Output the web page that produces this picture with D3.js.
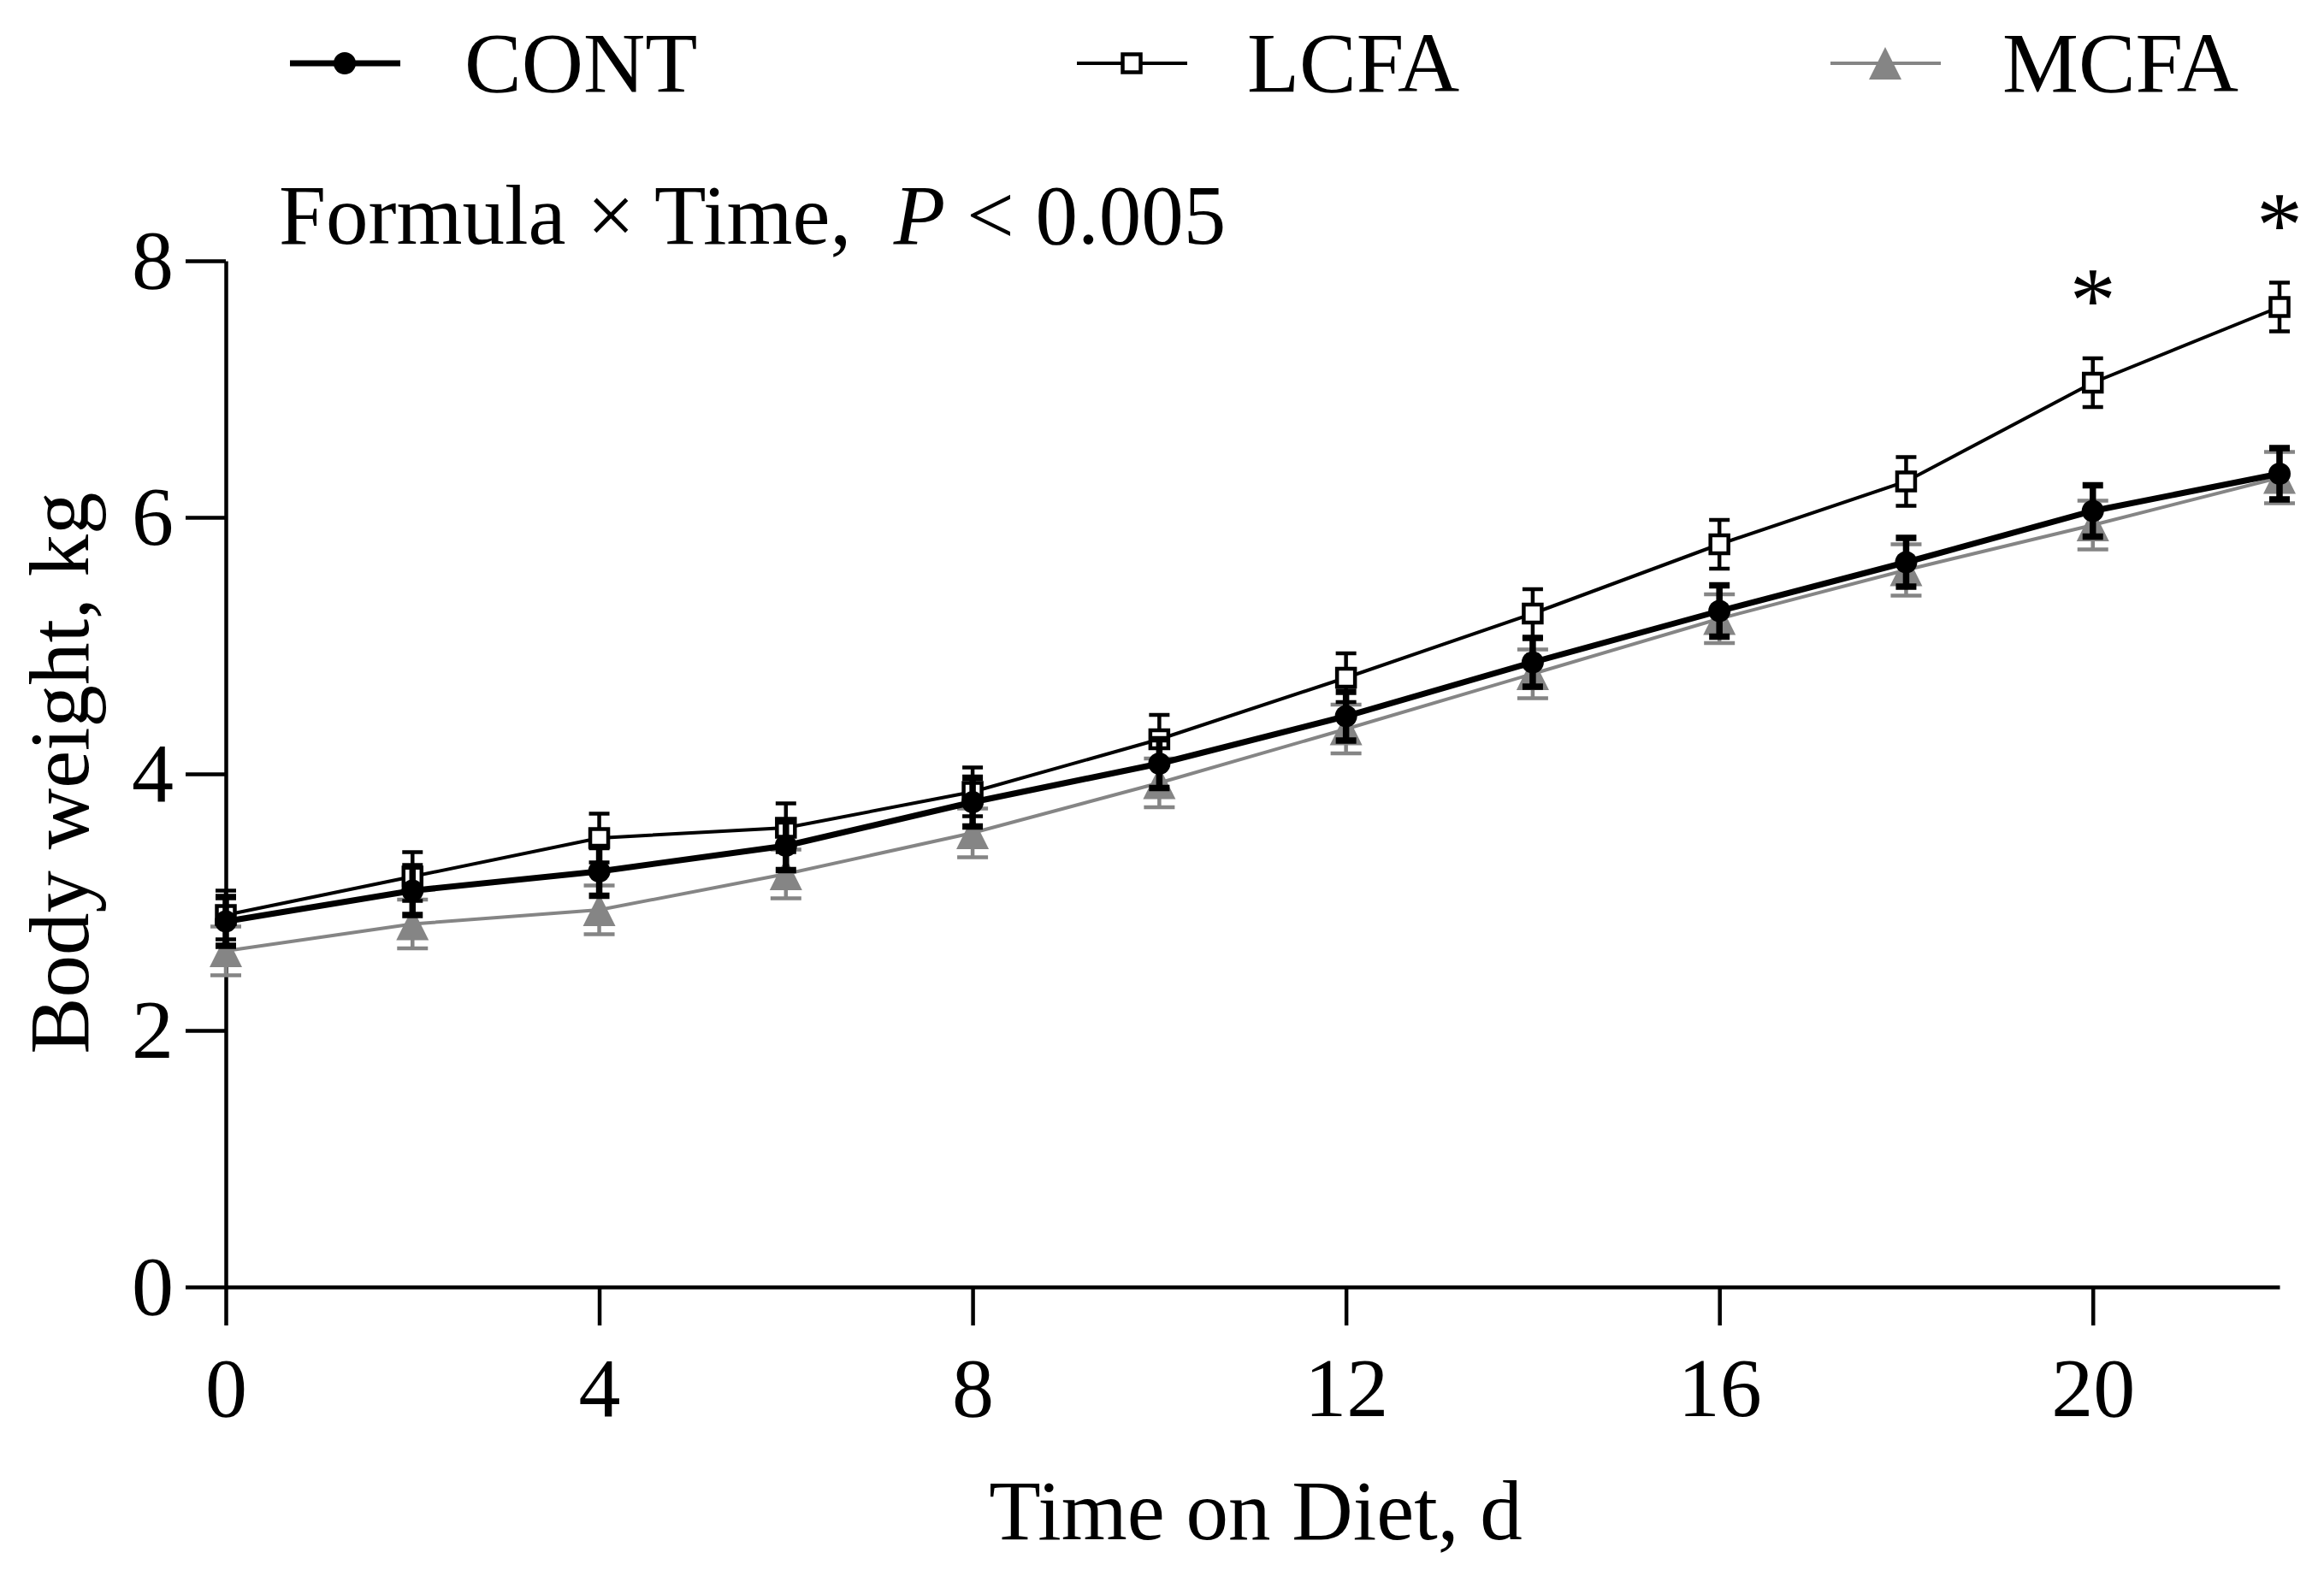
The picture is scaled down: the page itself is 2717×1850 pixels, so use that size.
<!DOCTYPE html>
<meta charset="utf-8">
<style>
body { margin: 0; background: #fff; }
text { font-family: "Liberation Serif", "Times New Roman", serif; fill: #000; }
.axis path, .axis line { stroke: #000; stroke-width: 4.5px; }
.axis text { font-size: 98px; font-family: "Liberation Serif", "Times New Roman", serif; }
</style>
<body>
<script src="https://d3js.org/d3.v7.min.js"></script>
<script>

// data
var days = [0, 2, 4, 6, 8, 10, 12, 14, 16, 18, 20, 22];
var cont = [2.85, 3.09, 3.24, 3.44, 3.78, 4.08, 4.45, 4.87, 5.27, 5.65, 6.05, 6.34];
var contSem = [0.19, 0.19, 0.19, 0.19, 0.19, 0.19, 0.19, 0.19, 0.20, 0.19, 0.20, 0.20];
var lcfa = [2.90, 3.20, 3.50, 3.58, 3.86, 4.27, 4.75, 5.25, 5.79, 6.28, 7.05, 7.64];
var lcfaSem = [0.19, 0.19, 0.19, 0.19, 0.19, 0.19, 0.19, 0.19, 0.19, 0.19, 0.19, 0.19];
var mcfa = [2.62, 2.83, 2.94, 3.22, 3.54, 3.93, 4.35, 4.78, 5.21, 5.59, 5.94, 6.31];
var mcfaSem = [0.19, 0.19, 0.19, 0.19, 0.19, 0.19, 0.19, 0.19, 0.19, 0.20, 0.19, 0.20];
var starDays = [20, 22];
var xTicks = [0, 4, 8, 12, 16, 20];
var yTicks = [0, 2, 4, 6, 8];

var W = 2717, H = 1850;

var svg = d3.select("body").append("svg")
    .attr("width", W)
    .attr("height", H);

svg.append("rect").attr("width", W).attr("height", H).attr("fill", "#fff");

// scales
var x = d3.scaleLinear().domain([0, 22]).range([264, 2665]);
var y = d3.scaleLinear().domain([0, 8]).range([1505, 305]);

// series styles (drawn back to front)
var series = [
  {name: "MCFA", vals: mcfa, sem: mcfaSem, color: "#858585", lw: 4, capW: 36, capLw: 4.5, shape: "tri", legX: 2140, textX: 2341},
  {name: "LCFA", vals: lcfa, sem: lcfaSem, color: "#000", lw: 4, capW: 24, capLw: 4.5, shape: "sq", legX: 1259, textX: 1458},
  {name: "CONT", vals: cont, sem: contSem, color: "#000", lw: 7, capW: 24, capLw: 7.5, shape: "circ", legX: 339, textX: 543}
];

function drawMarker(g, shape, color) {
  if (shape === "circ") {
    g.append("circle").attr("r", 13).attr("fill", color);
  } else if (shape === "sq") {
    g.append("rect").attr("x", -10.5).attr("y", -10.5).attr("width", 21).attr("height", 21)
      .attr("fill", "#fff").attr("stroke", color).attr("stroke-width", 4.5);
  } else {
    g.append("path").attr("d", "M0,-19 L19,19 L-19,19 Z")
      .attr("fill", color);
  }
}

// axes
svg.append("g")
    .attr("class", "axis")
    .attr("transform", "translate(0," + y(0) + ")")
    .call(d3.axisBottom(x).tickValues(xTicks).tickSize(45).tickSizeOuter(0).tickPadding(36))
    .selectAll("text").attr("font-size", 98);

svg.append("g")
    .attr("class", "axis")
    .attr("transform", "translate(" + x(0) + ",0)")
    .call(d3.axisLeft(y).tickValues(yTicks).tickSize(47).tickSizeOuter(0).tickPadding(14))
    .selectAll("text").attr("font-size", 98);

// lines, error bars, markers
var line = d3.line()
    .x(function(d, i) { return x(days[i]); })
    .y(function(d) { return y(d); });

series.forEach(function(s) {
  var g = svg.append("g");

  g.append("path")
    .datum(s.vals)
    .attr("fill", "none")
    .attr("stroke", s.color)
    .attr("stroke-width", s.lw)
    .attr("d", line);

  var eb = g.selectAll(".eb").data(s.vals).enter().append("g");
  eb.append("line")
    .attr("x1", function(d, i) { return x(days[i]); })
    .attr("x2", function(d, i) { return x(days[i]); })
    .attr("y1", function(d, i) { return y(d + s.sem[i]); })
    .attr("y2", function(d, i) { return y(d - s.sem[i]); })
    .attr("stroke", s.color).attr("stroke-width", s.capLw);
  [1, -1].forEach(function(sign) {
    eb.append("line")
      .attr("x1", function(d, i) { return x(days[i]) - s.capW / 2; })
      .attr("x2", function(d, i) { return x(days[i]) + s.capW / 2; })
      .attr("y1", function(d, i) { return y(d + sign * s.sem[i]); })
      .attr("y2", function(d, i) { return y(d + sign * s.sem[i]); })
      .attr("stroke", s.color).attr("stroke-width", s.capLw);
  });

  s.vals.forEach(function(v, i) {
    var m = g.append("g").attr("transform", "translate(" + x(days[i]) + "," + y(v) + ")");
    drawMarker(m, s.shape, s.color);
  });

  // legend entry
  var lg = svg.append("g");
  lg.append("line")
    .attr("x1", s.legX).attr("x2", s.legX + 129)
    .attr("y1", 74).attr("y2", 74)
    .attr("stroke", s.color).attr("stroke-width", s.lw);
  var lm = lg.append("g").attr("transform", "translate(" + (s.legX + 64) + ",74)");
  drawMarker(lm, s.shape, s.color);
  lg.append("text")
    .attr("x", s.textX).attr("y", 107)
    .attr("font-size", 100)
    .text(s.name);
});

// significance stars above LCFA
starDays.forEach(function(dd) {
  var i = days.indexOf(dd);
  svg.append("text")
    .attr("x", x(dd))
    .attr("y", y(lcfa[i] + lcfaSem[i]) - 32)
    .attr("text-anchor", "middle")
    .attr("font-size", 108)
    .text("*");
});

// interaction annotation
var ann = svg.append("text")
    .attr("x", 326).attr("y", 285)
    .attr("font-size", 99)
    .attr("xml:space", "preserve");
ann.append("tspan").text("Formula \u00d7 Time,  ");
ann.append("tspan").attr("font-style", "italic").text("P");
ann.append("tspan").text(" < 0.005");

// axis titles
svg.append("text")
    .attr("x", 1468).attr("y", 1800)
    .attr("text-anchor", "middle")
    .attr("font-size", 99)
    .text("Time on Diet, d");

svg.append("text")
    .attr("transform", "translate(103,904) rotate(-90)")
    .attr("text-anchor", "middle")
    .attr("font-size", 99)
    .text("Body weight, kg");

</script>
</body>
